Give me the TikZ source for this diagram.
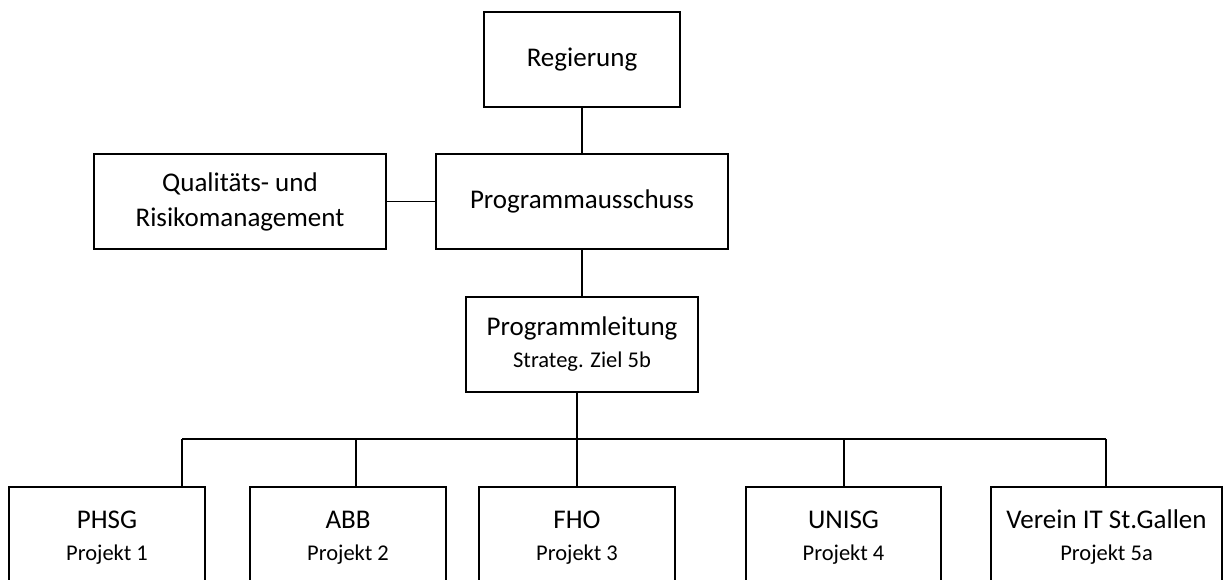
\documentclass[tikz,border=0pt]{standalone}
\usepackage{fontspec}
\setmainfont{Carlito}
\newcommand\subline[1]{{\fontsize{22.5}{32}\selectfont #1}}

\begin{document}
\begin{tikzpicture}[x=1pt,y=-1pt,
  box/.style={draw,line width=1.4pt,inner sep=0pt,minimum height=95pt,
    align=center,font=\fontsize{27}{32}\selectfont},
  proj/.style={box,minimum height=101pt},
  link/.style={line width=1.4pt}]
  \clip (0,0) rectangle (1225,579);

  % Steering level
  \node[box,minimum width=196pt] (reg) at (582,59.5) {Regierung};
  \node[box,minimum width=292pt] (aus) at (582,201.5) {Programmausschuss};
  \node[box,minimum width=292pt,font=\fontsize{27}{35}\selectfont] (qual) at (240,201.5)
    {Qualitäts- und\\Risikomanagement};
  \node[box,minimum width=232pt] (leit) at (582,344.5)
    {Programmleitung\\\subline{Strateg. Ziel 5b}};

  % Projects
  \node[proj,minimum width=196pt] (phsg) at (107,537.5) {PHSG\\\subline{Projekt 1}};
  \node[proj,minimum width=196pt] (abb) at (348,537.5) {ABB\\\subline{Projekt 2}};
  \node[proj,minimum width=196pt] (fho) at (577,537.5) {FHO\\\subline{Projekt 3}};
  \node[proj,minimum width=195pt] (unisg) at (843.5,537.5) {UNISG\\\subline{Projekt 4}};
  \node[proj,minimum width=231pt] (verein) at (1106.5,537.5)
    {Verein IT St.Gallen\\\subline{Projekt 5a}};

  % Connectors
  \draw[link] (reg) -- (aus);
  \draw[link] (qual) -- (aus);
  \draw[link] (aus) -- (leit);

  \coordinate (b1) at (182,439);
  \coordinate (b2) at (356,439);
  \coordinate (b4) at (844,439);
  \coordinate (b5) at (1106,439);
  \draw[link] (b1) -- (b5);
  \draw[link] (leit.south -| fho.north) -- (fho.north);
  \draw[link] (b1) -- (b1 |- phsg.north);
  \draw[link] (b2) -- (b2 |- abb.north);
  \draw[link] (b4) -- (b4 |- unisg.north);
  \draw[link] (b5) -- (b5 |- verein.north);
\end{tikzpicture}
\end{document}
